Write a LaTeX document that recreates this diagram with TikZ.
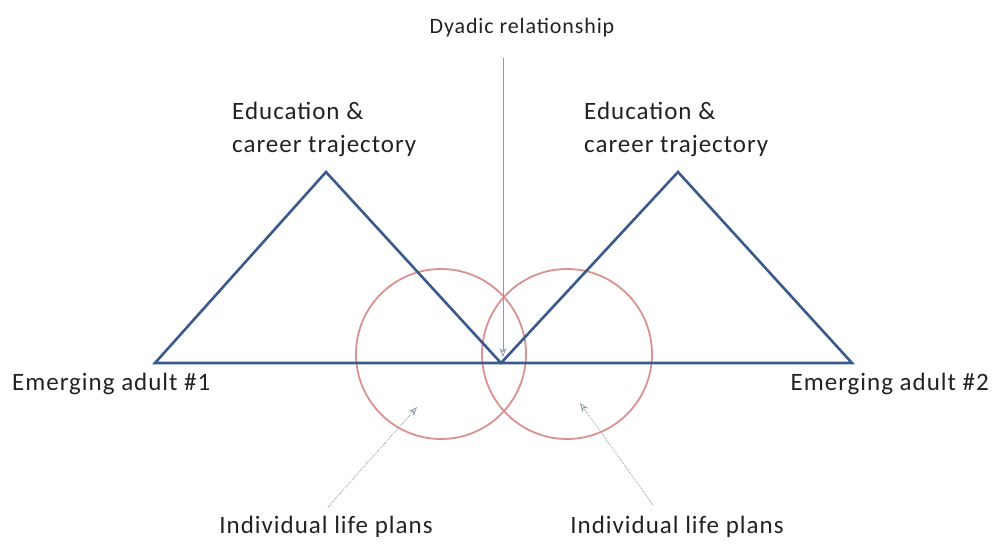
\documentclass[tikz,border=0pt]{standalone}
\usepackage{fontspec}
\setmainfont{Carlito}[LetterSpace=4]
\usetikzlibrary{arrows.meta}
\definecolor{triblue}{HTML}{3A5A8C}
\definecolor{circred}{HTML}{D9928F}
\definecolor{arrowgrey}{HTML}{8A9AB0}
\definecolor{txt}{HTML}{222222}
\begin{document}
\begin{tikzpicture}[x=1pt,y=-1pt,
  lbl/.style={text=txt,font=\fontsize{25}{33}\selectfont,inner sep=0pt},
  tri/.style={draw=triblue,line width=2.6pt,line join=miter},
  circ/.style={draw=circred,line width=1.8pt},
  pointer/.style={draw=arrowgrey,line width=0.8pt,-{Stealth[length=9pt,width=7pt,open]}},
  dotpointer/.style={pointer,densely dotted}]
\useasboundingbox (0,0) rectangle (995,543);
% coordinates
\coordinate (L1) at (155,363);
\coordinate (A1) at (326,172);
\coordinate (M) at (501,363);
\coordinate (A2) at (678,172);
\coordinate (R2) at (852,363);
% circles
\node[circ,circle,minimum size=170pt,inner sep=0pt] (c1) at (441,354) {};
\node[circ,circle,minimum size=170pt,inner sep=0pt] (c2) at (567,354) {};
% triangles
\draw[tri] (L1) -- (A1) -- (M) -- (A2) -- (R2) -- cycle;
% labels
\node[lbl,font=\fontsize{22}{33}\selectfont] (dy) at (522,28) {Dyadic relationship};
\node[lbl,anchor=north west,align=left] (e1) at (232,102) {Education \&\\career trajectory};
\node[lbl,anchor=north west,align=left] (e2) at (584,102) {Education \&\\career trajectory};
\node[lbl,anchor=west] (ea1) at (12,384) {Emerging adult \#1};
\node[lbl,anchor=east] (ea2) at (989,384) {Emerging adult \#2};
\node[lbl] (ip1) at (326,527) {Individual life plans};
\node[lbl] (ip2) at (677,527) {Individual life plans};
% pointers
\coordinate (dytail) at (503,58);
\coordinate (dyhead) at (503,357);
\draw[pointer] (dytail) -- (dyhead);
\coordinate (p1t) at (328,507);
\coordinate (p1h) at (417,407);
\draw[dotpointer] (p1t) -- (p1h);
\coordinate (p2t) at (653,505);
\coordinate (p2h) at (580,403);
\draw[dotpointer] (p2t) -- (p2h);
\end{tikzpicture}
\end{document}
